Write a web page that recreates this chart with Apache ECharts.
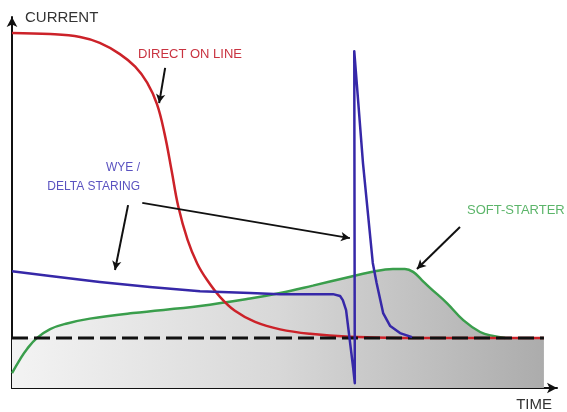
<!DOCTYPE html>
<html><head><meta charset="utf-8">
<script src="https://cdn.jsdelivr.net/npm/echarts@6/dist/echarts.min.js"></script>
<style>html,body{margin:0;padding:0;background:#fff}#c{width:567px;height:412px}</style>
</head><body><div id="c"></div>
<script>
// Time / current in arbitrary units (0-100)
const directOnLine = [[0,95.7],[7.0,95.4],[12.5,94.6],[16.1,93.0],[19.8,90.0],[22.6,86.6],[24.8,82.3],[26.6,76.5],[28.0,68.5],[29.3,58.5],[30.5,49.0],[32.2,40.0],[34.0,33.5],[35.8,29.1],[38.2,24.5],[40.9,20.8],[44.6,17.8],[49.2,15.8],[54.7,14.6],[62.0,13.8],[71.2,13.5],[97.6,13.5]];
const wyeDelta = [[0,31.5],[7.0,30.2],[16.1,28.6],[25.3,27.2],[34.5,26.1],[43.7,25.6],[49.2,25.3],[54.7,25.3],[58.9,25.3],[60.2,24.8],[60.7,23.7],[61.3,21.0],[61.7,16.2],[62.2,10.2],[62.6,5.4],[62.9,1.3],[62.8,90.8],[64.4,60.6],[66.2,33.7],[66.9,28.3],[68.1,20.2],[69.4,16.7],[71.2,14.8],[73.4,13.7]];
const softStarter = [[0,4.0],[1.5,7.8],[2.8,10.6],[4.6,13.5],[7.0,15.9],[10.1,17.4],[14.3,18.7],[22.2,20.2],[34.5,22.1],[43.7,24.1],[49.2,25.6],[55.2,27.6],[61.5,29.8],[65.7,31.2],[69.9,32.1],[72.1,32.1],[73.6,31.3],[75.2,29.1],[76.7,27.0],[79.8,22.9],[82.8,18.3],[85.9,15.1],[88.3,14.0],[90.5,13.5]];
const ratedLevel = 13.5;
const ratedEnd = 97.6;
const labels = {
  yAxis: 'CURRENT', xAxis: 'TIME',
  dol: 'DIRECT ON LINE', wye1: 'WYE /', wye2: 'DELTA STARING', soft: 'SOFT-STARTER'
};
// annotation arrows in data units: [from, to]
const arrowDol = [[28.1,86.3],[27.0,76.8]];
const arrowWyeLine = [[21.3,49.3],[18.9,31.8]];
const arrowWyeSpike = [[23.9,49.9],[62.0,40.4]];
const arrowSoft = [[82.2,43.4],[74.3,32.1]];

const fillTop = softStarter.map(p => [p[0], Math.max(p[1], ratedLevel)]).concat([[ratedEnd, ratedLevel]]);
const ratedLine = [[0, ratedLevel],[ratedEnd, ratedLevel]];

const chart = echarts.init(document.getElementById('c'));
const axisLine = {show:true, onZero:false, lineStyle:{color:'#111', width:2}, symbol:['none','arrow'], symbolSize:[8,10]};
function arrow(a){ return [{coord:a[0]},{coord:a[1]}]; }
chart.setOption({
  animation:false,
  grid:{left:12, right:10, top:17, bottom:24},
  xAxis:{type:'value', min:0, max:100, axisLine:axisLine, axisTick:{show:false}, axisLabel:{show:false}, splitLine:{show:false}},
  yAxis:{type:'value', min:0, max:100, axisLine:axisLine, axisTick:{show:false}, axisLabel:{show:false}, splitLine:{show:false}},
  series:[
    {type:'line', data:fillTop, smooth:0.4, symbol:'none', lineStyle:{width:0},
     areaStyle:{opacity:1, origin:'start', color:new echarts.graphic.LinearGradient(0,0,1,0,[{offset:0,color:'#f3f3f3'},{offset:0.5,color:'#d8d8d8'},{offset:1,color:'#acacac'}])}, z:1},
    {type:'line', data:softStarter, smooth:0.4, symbol:'none', lineStyle:{color:'#3a9e4c', width:2.5}, z:3},
    {type:'line', data:directOnLine, smooth:0.4, symbol:'none', lineStyle:{color:'#cc2229', width:2.5}, z:4},
    {type:'line', data:ratedLine, symbol:'none', lineStyle:{color:'#111', width:3, type:[16,6]}, z:5},
    {type:'line', data:wyeDelta, smooth:false, symbol:'none', lineStyle:{color:'#3628a8', width:2.5, join:'round'}, z:6,
     markLine:{silent:true, symbol:['none','arrow'], symbolSize:[7,9], label:{show:false},
       lineStyle:{color:'#111', width:2, type:'solid'},
       data:[arrow(arrowDol), arrow(arrowWyeLine), arrow(arrowWyeSpike), arrow(arrowSoft)]}}
  ],
  graphic:[
    {type:'text', x:25, y:18, style:{text:labels.yAxis, fill:'#333', font:'15px "Liberation Sans", Arial, sans-serif', textAlign:'left', textVerticalAlign:'middle'}},
    {type:'text', x:552, y:405, style:{text:labels.xAxis, fill:'#333', font:'15px "Liberation Sans", Arial, sans-serif', textAlign:'right', textVerticalAlign:'middle'}},
    {type:'text', x:138, y:54, style:{text:labels.dol, fill:'#c93340', font:'13px "Liberation Sans", Arial, sans-serif', textAlign:'left', textVerticalAlign:'middle'}},
    {type:'text', x:140, y:168, style:{text:labels.wye1, fill:'#5a52c0', font:'12px "Liberation Sans", Arial, sans-serif', textAlign:'right', textVerticalAlign:'middle'}},
    {type:'text', x:140, y:187, style:{text:labels.wye2, fill:'#5a52c0', font:'12px "Liberation Sans", Arial, sans-serif', textAlign:'right', textVerticalAlign:'middle'}},
    {type:'text', x:467, y:210, style:{text:labels.soft, fill:'#5cb56a', font:'13px "Liberation Sans", Arial, sans-serif', textAlign:'left', textVerticalAlign:'middle'}}
  ]
});
</script></body></html>
